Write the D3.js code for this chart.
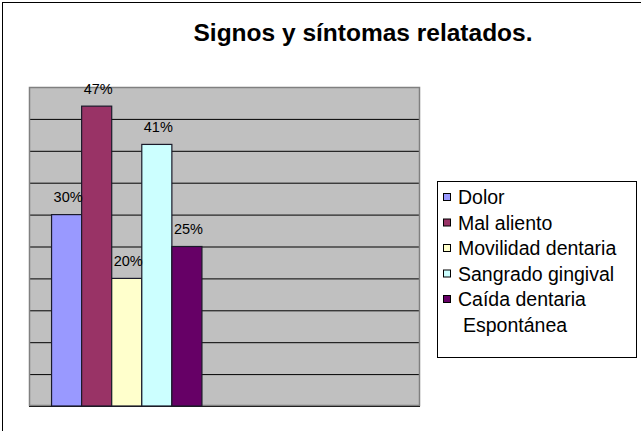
<!DOCTYPE html>
<html>
<head>
<meta charset="utf-8">
<script src="https://cdn.jsdelivr.net/npm/d3@7"></script>
<style>
  html, body { margin: 0; padding: 0; background: #fff; }
  svg { display: block; font-family: "Liberation Sans", Arial, sans-serif; }
</style>
</head>
<body>
<svg id="chart" width="641" height="431"></svg>
<script>
// ---- data ----
const title = "Signos y síntomas relatados.";
const categories = ["Grupo", "Vacío"];
const seriesNames = ["Dolor", "Mal aliento", "Movilidad dentaria", "Sangrado gingival", "Caída dentaria\nEspontánea"];
const seriesValues = [0.30, 0.47, 0.20, 0.41, 0.25];
const seriesLabels = ["30%", "47%", "20%", "41%", "25%"];
const seriesColors = ["#9999FF", "#993366", "#FFFFCC", "#CCFFFF", "#660066"];
const yTicks = [0, 0.05, 0.10, 0.15, 0.20, 0.25, 0.30, 0.35, 0.40, 0.45, 0.50];

const svg = d3.select("#chart");
const W = 641, H = 431;
const plot = {left: 29, right: 420, top: 87, bottom: 406};

// outer border
svg.append("rect").attr("x", 2.5).attr("y", 2.5).attr("width", W + 10).attr("height", H + 10)
  .attr("fill", "#fff").attr("stroke", "#000").attr("stroke-width", 1);

// title
svg.append("text").attr("x", 363).attr("y", 41).attr("text-anchor", "middle")
  .attr("font-size", 24.5).attr("font-weight", "bold").attr("fill", "#000").text(title);

// scales
const y = d3.scaleLinear().domain([0, 0.5]).range([plot.bottom, plot.top]);
const x0 = d3.scaleBand().domain(categories).range([plot.left, plot.right]).paddingInner(0).paddingOuter(0);
const x1 = d3.scaleBand().domain(seriesNames).range([0, x0.bandwidth()]).paddingInner(0).paddingOuter(0.75);

// plot background
svg.append("rect").attr("x", plot.left).attr("y", plot.top)
  .attr("width", plot.right - plot.left).attr("height", plot.bottom - plot.top)
  .attr("fill", "#C0C0C0");

// gridlines via axis
const grid = svg.append("g").attr("transform", `translate(${plot.left},0)`)
  .call(d3.axisLeft(y).tickValues(yTicks).tickSize(-(plot.right - plot.left)).tickFormat(""));
grid.select(".domain").remove();
grid.selectAll(".tick line").attr("stroke", "#000").attr("stroke-width", 1);

// plot border
svg.append("rect").attr("x", plot.left + 0.5).attr("y", plot.top + 0.5)
  .attr("width", plot.right - plot.left - 1).attr("height", plot.bottom - plot.top - 1)
  .attr("fill", "none").attr("stroke", "#808080").attr("stroke-width", 1.5);

// bars
const data = seriesNames.map((s, i) => ({s, v: seriesValues[i], lab: seriesLabels[i], c: seriesColors[i], cat: categories[0]}));
const bars = svg.append("g").attr("transform", `translate(${x0(categories[0])},0)`);
bars.selectAll("rect").data(data).join("rect")
  .attr("x", d => x1(d.s)).attr("y", d => y(d.v))
  .attr("width", x1.bandwidth()).attr("height", d => y(0) - y(d.v))
  .attr("fill", d => d.c).attr("stroke", "#1a1a2a").attr("stroke-width", 1.2);
bars.selectAll("text").data(data).join("text")
  .attr("x", d => x1(d.s) + x1.bandwidth() / 2 + 1.5).attr("y", d => y(d.v) - 12.5)
  .attr("text-anchor", "middle").attr("font-size", 14.5).attr("fill", "#000").text(d => d.lab);

// legend
const lg = {x: 437, y: 181, w: 199, h: 176};
svg.append("rect").attr("x", lg.x + 0.5).attr("y", lg.y + 0.5).attr("width", lg.w).attr("height", lg.h)
  .attr("fill", "#fff").attr("stroke", "#000").attr("stroke-width", 1);
const rowH = 25.5;
const items = svg.append("g").selectAll("g").data(data).join("g")
  .attr("transform", (d, i) => `translate(${lg.x + 6},${lg.y + 23 + i * rowH})`);
items.append("rect").attr("x", 0.5).attr("y", -10.5).attr("width", 7).attr("height", 7)
  .attr("fill", d => d.c).attr("stroke", "#000").attr("stroke-width", 1);
items.append("text").attr("x", 15).attr("y", 0).attr("font-size", 19.5).attr("fill", "#000")
  .each(function(d) {
    const parts = d.s.split("\n");
    d3.select(this).selectAll("tspan").data(parts).join("tspan")
      .attr("x", (p, j) => j === 0 ? 15 : 20).attr("dy", (p, j) => j === 0 ? 0 : rowH).text(p => p);
  });
</script>
</body>
</html>
